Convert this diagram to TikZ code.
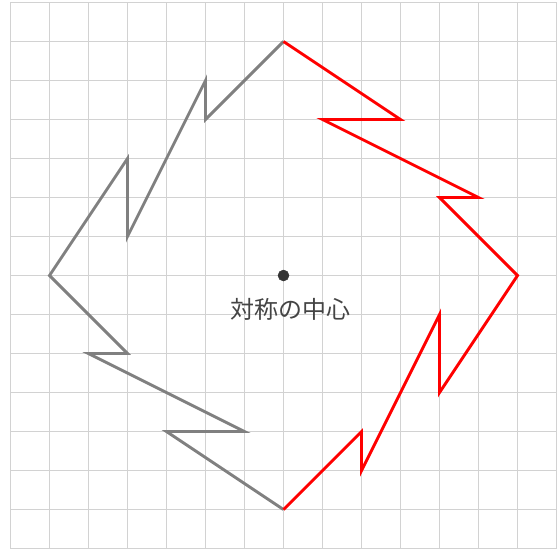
\documentclass[tikz,border=0pt]{standalone}
\usepackage{fontspec}
\newfontfamily\jpfont{Noto Sans CJK JP}
\usepackage{tikz}
\tikzset{% change default arrow tips
    >=latex
}
\definecolor{gridgray}{RGB}{210,210,210}
\definecolor{figgray}{RGB}{128,128,128}
\definecolor{dotgray}{RGB}{51,51,51}
\definecolor{textgray}{RGB}{68,68,68}

\begin{document}
\begin{tikzpicture}[scale=1]
    		\newcommand{\half}{7}
    	
    		% frame
    		\useasboundingbox (-7.269,-6.987) rectangle (7.038,7.064);
    		\clip (-7.269,-6.987) rectangle (7.038,7.064);
    	
    		% grid
        	\draw[gridgray, line width=1pt] (-\half,-\half) grid (\half,\half);
    	
    		% original half (gray)
			\draw[figgray, line width=2.1pt, line join=miter] (0,-6) -- (-3,-4) -- (-1,-4) -- (-5,-2) -- (-4,-2) -- (-6,0)
			    -- (-4,3) -- (-4,1) -- (-2,5) -- (-2,4) -- (0,6);
    	
    		% rotated half (red)
			\draw[red, line width=2.1pt, line join=miter] (0,6) -- (3,4) -- (1,4) -- (5,2) -- (4,2) -- (6,0)
			    -- (4,-3) -- (4,-1) -- (2,-5) -- (2,-4) -- (0,-6);
    	
    		% center of symmetry
		    \filldraw[dotgray] (0,0) circle (0.14) node (ctr) {};
		    \node[textgray, font=\jpfont\fontsize{17.5}{21}\selectfont] (ctrlabel) at (0.19,-0.86) {対称の中心};
		      
\end{tikzpicture}
\end{document}
